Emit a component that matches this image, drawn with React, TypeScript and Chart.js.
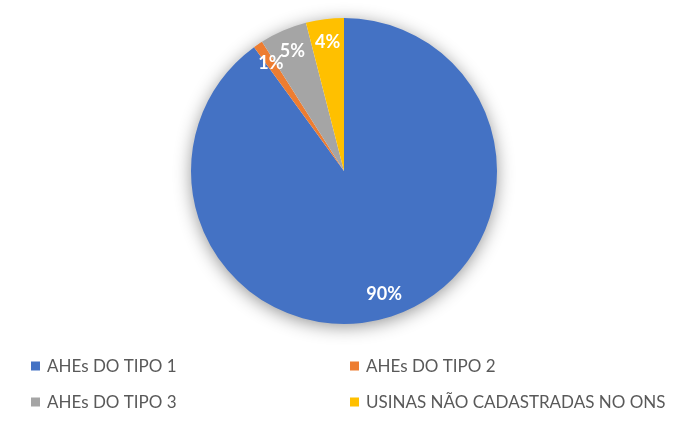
import React, { useEffect, useRef } from "react";
import { Chart, registerables } from "chart.js";

Chart.register(...registerables);

const categories = ["AHEs DO TIPO 1", "AHEs DO TIPO 2", "AHEs DO TIPO 3", "USINAS NÃO CADASTRADAS NO ONS"];
const values = [90, 1, 5, 4];
const valueLabels = ["90%", "1%", "5%", "4%"];
const colors = ["#4472C4", "#ED7D31", "#A5A5A5", "#FFC000"];

const shadowPlugin = {
  id: "pieShadow",
  beforeDatasetsDraw(chart: any) {
    const meta = chart.getDatasetMeta(0);
    const arc = meta.data[0];
    if (!arc) return;
    const { x, y, outerRadius } = arc.getProps(["x", "y", "outerRadius"], true);
    const ctx = chart.ctx;
    ctx.save();
    ctx.shadowColor = "rgba(0,0,0,0.45)";
    ctx.shadowBlur = 18;
    ctx.shadowOffsetX = 0;
    ctx.shadowOffsetY = 3;
    ctx.fillStyle = "#ffffff";
    ctx.beginPath();
    ctx.arc(x, y, outerRadius - 1, 0, Math.PI * 2);
    ctx.fill();
    ctx.restore();
  },
};

const labelPlugin = {
  id: "sliceLabels",
  afterDatasetsDraw(chart: any) {
    const meta = chart.getDatasetMeta(0);
    const ctx = chart.ctx;
    ctx.save();
    ctx.font = "bold 18px Lato, 'Open Sans', sans-serif";
    ctx.fillStyle = "#ffffff";
    ctx.textAlign = "center";
    ctx.textBaseline = "middle";
    meta.data.forEach((a: any, i: number) => {
      const { x, y, startAngle, endAngle, outerRadius } = a.getProps(
        ["x", "y", "startAngle", "endAngle", "outerRadius"],
        true
      );
      const mid = (startAngle + endAngle) / 2;
      const r = outerRadius * 0.85;
      ctx.fillText(valueLabels[i], x + Math.cos(mid) * r, y + Math.sin(mid) * r);
    });
    ctx.restore();
  },
};

const legendPlugin = {
  id: "gridLegend",
  afterDraw(chart: any) {
    const ctx = chart.ctx;
    ctx.save();
    ctx.font = "17px Lato, 'Open Sans', sans-serif";
    ctx.textBaseline = "middle";
    ctx.textAlign = "left";
    const cols = [31, 350];
    const rows = [366, 402];
    categories.forEach((c, i) => {
      const cx = cols[i % 2];
      const cy = rows[Math.floor(i / 2)];
      ctx.fillStyle = colors[i];
      ctx.fillRect(cx, cy - 4.5, 9, 9);
      ctx.fillStyle = "#595959";
      ctx.fillText(c, cx + 16, cy + 1);
    });
    ctx.restore();
  },
};

export default function App() {
  const ref = useRef<HTMLCanvasElement>(null);
  useEffect(() => {
    if (!ref.current) return;
    const chart = new Chart(ref.current, {
      type: "pie",
      data: {
        labels: categories,
        datasets: [
          {
            data: values,
            backgroundColor: colors,
            borderWidth: 0,
          },
        ],
      },
      options: {
        animation: false,
        responsive: false,
        layout: { padding: { top: 18, bottom: 98, left: 191, right: 201 } },
        plugins: {
          legend: { display: false },
          tooltip: { enabled: false },
        },
      },
      plugins: [shadowPlugin, labelPlugin, legendPlugin],
    });
    return () => chart.destroy();
  }, []);
  return (
    <div style={{ position: "fixed", left: 0, top: 0, width: 698, height: 422, background: "#fff" }}>
      <canvas ref={ref} width={698} height={422} style={{ width: 698, height: 422 }} />
    </div>
  );
}
